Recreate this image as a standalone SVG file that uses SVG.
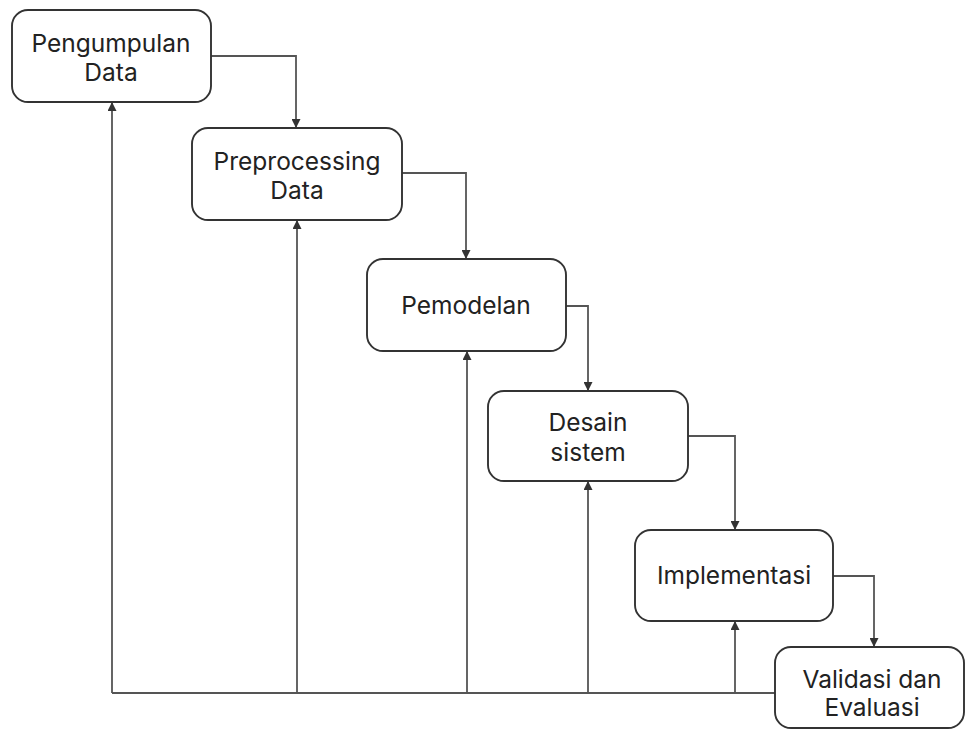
<svg xmlns="http://www.w3.org/2000/svg" width="965" height="737" viewBox="0 0 965 737">
<defs>
<marker id="arr" viewBox="0 0 10 10" refX="10" refY="5" markerWidth="9" markerHeight="9" markerUnits="userSpaceOnUse" orient="auto">
<path d="M0,0 L10,5 L0,10 Z" fill="#333"/>
</marker>
<style>
.box{fill:#fff;stroke:#333;stroke-width:1.9}
.lbl{font-family:Inter,"Liberation Sans",sans-serif;font-size:24.5px;fill:#222;text-anchor:middle}
.con{fill:none;stroke:#555;stroke-width:1.8}
</style>
</defs>
<rect width="965" height="737" fill="#fff"/>
<g id="connectors">
<path class="con" d="M211,56 H296 V128" marker-end="url(#arr)"/>
<path class="con" d="M402,173 H466 V259" marker-end="url(#arr)"/>
<path class="con" d="M566,306 H588 V391" marker-end="url(#arr)"/>
<path class="con" d="M688,436 H735 V530" marker-end="url(#arr)"/>
<path class="con" d="M833,576 H874 V647" marker-end="url(#arr)"/>
<path class="con" d="M775,693 H112"/>
<path class="con" d="M112,693 V102" marker-end="url(#arr)"/>
<path class="con" d="M297,693 V220" marker-end="url(#arr)"/>
<path class="con" d="M467,693 V351" marker-end="url(#arr)"/>
<path class="con" d="M588,693 V481" marker-end="url(#arr)"/>
<path class="con" d="M735,693 V621" marker-end="url(#arr)"/>
</g>
<g id="pengumpulan">
<rect class="box" x="12" y="10" width="199" height="92" rx="16"/>
<text class="lbl" x="111" y="52">Pengumpulan</text>
<text class="lbl" x="111" y="81">Data</text>
</g>
<g id="preprocessing">
<rect class="box" x="192" y="128" width="210" height="92" rx="16"/>
<text class="lbl" x="297" y="170">Preprocessing</text>
<text class="lbl" x="297" y="199">Data</text>
</g>
<g id="pemodelan">
<rect class="box" x="367" y="259" width="199" height="92" rx="16"/>
<text class="lbl" x="466" y="314">Pemodelan</text>
</g>
<g id="desain">
<rect class="box" x="488" y="391" width="200" height="90" rx="16"/>
<text class="lbl" x="588" y="431">Desain</text>
<text class="lbl" x="588" y="461">sistem</text>
</g>
<g id="implementasi">
<rect class="box" x="635" y="530" width="198" height="91" rx="16"/>
<text class="lbl" x="734" y="584">Implementasi</text>
</g>
<g id="validasi">
<rect class="box" x="775" y="647" width="189" height="81" rx="16"/>
<text class="lbl" x="872" y="688">Validasi dan</text>
<text class="lbl" x="872" y="716">Evaluasi</text>
</g>
</svg>
